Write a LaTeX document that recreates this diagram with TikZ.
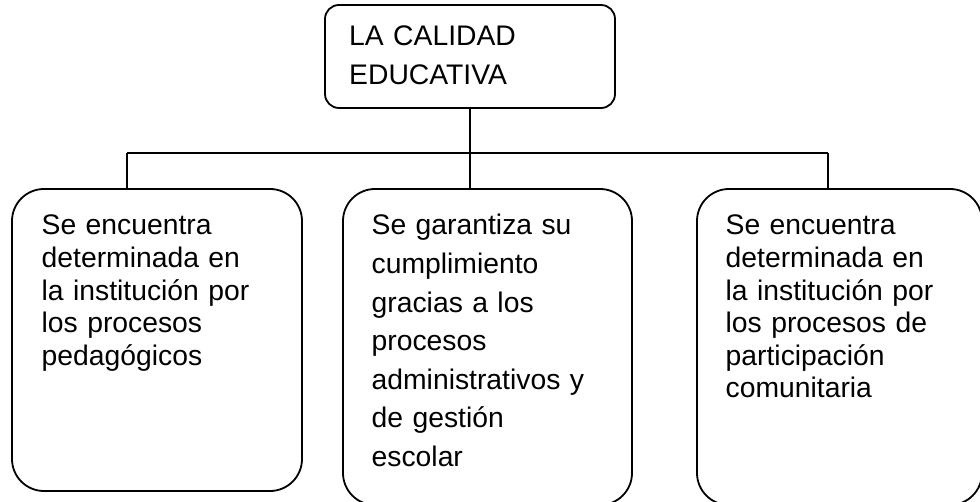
\documentclass[tikz,border=0pt]{standalone}
\usepackage{fontspec}
\setmainfont{Liberation Sans}
\begin{document}
\begin{tikzpicture}[x=1pt,y=-1pt,
  box/.style={draw=black, line width=1.8pt, rectangle, inner sep=0pt},
  topbox/.style={box, rounded corners=14pt},
  subbox/.style={box, rounded corners=32pt},
  txt/.style={anchor=base west, inner sep=0pt, align=left, text width=#1},
  link/.style={draw=black, line width=1.8pt}]
\useasboundingbox (0,0) rectangle (980,502);
% boxes
\node[topbox, minimum width=290pt, minimum height=103pt] (top) at (470,56.5) {};
\node[subbox, minimum width=290pt, minimum height=302pt] (b1) at (157,340) {};
\node[subbox, minimum width=289pt, minimum height=316pt] (b2) at (487.5,347) {};
\node[subbox, minimum width=285pt, minimum height=316pt] (b3) at (839.5,347) {};
% texts
\node[txt=260pt, font=\fontsize{28.3}{39}\selectfont] (t0) at (349,46) {LA CALIDAD\\EDUCATIVA};
\node[txt=260pt, font=\fontsize{28.3}{32.6}\selectfont] (t1) at (41.5,235) {Se encuentra\\determinada en\\la institución por\\los procesos\\pedagógicos};
\node[txt=260pt, font=\fontsize{28.3}{38.6}\selectfont] (t2) at (371.5,235) {Se garantiza su\\cumplimiento\\gracias a los\\procesos\\administrativos y\\de gestión\\escolar};
\node[txt=260pt, font=\fontsize{28.3}{32.6}\selectfont] (t3) at (725.5,235) {Se encuentra\\determinada en\\la institución por\\los procesos de\\participación\\comunitaria};
% connectors
\coordinate (hl) at (127,153);
\coordinate (hr) at (828,153);
\coordinate (hm) at (top.south |- hl);
\draw[link] (top.south) -- (hm);
\draw[link] (hl) -- (hr);
\draw[link] (hl) -- (hl |- b1.north);
\draw[link] (hm) -- (hm |- b2.north);
\draw[link] (hr) -- (hr |- b3.north);
\end{tikzpicture}
\end{document}
